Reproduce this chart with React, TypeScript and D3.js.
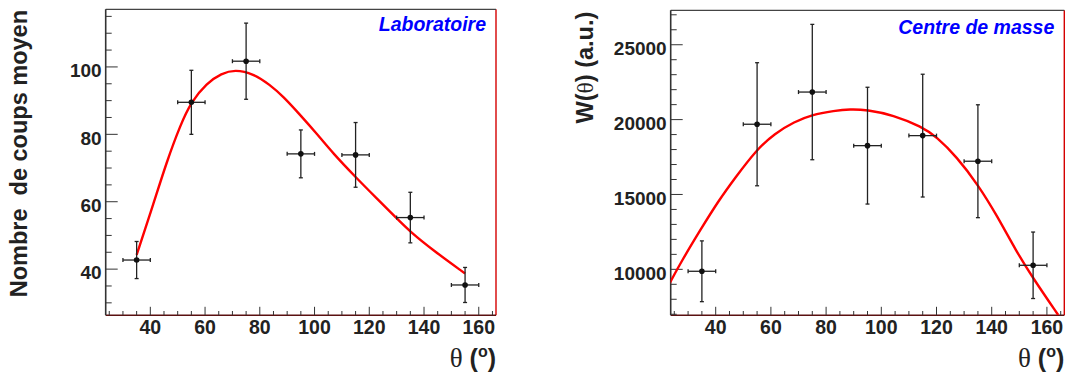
import React from "react";
import * as d3 from "d3";

// ---------- data ----------
const theta = [35, 55, 75, 95, 115, 135, 155];
const thetaErr = [5, 5, 5, 5, 5, 5, 5];

const countsLab = [42.7, 89.5, 101.7, 74.2, 73.9, 55.3, 35.3];
const countsLabErr = [5.5, 9.5, 11.3, 7.1, 9.6, 7.5, 5.2];

const wCM = [9870, 19690, 21840, 18260, 18930, 17220, 10270];
const wCMErr = [2030, 4110, 4520, 3900, 4100, 3770, 2220];

const fitLabTheta = [35, 41, 46, 51, 55, 60.6, 66, 71, 77.6, 83.7, 88.6, 94.7, 100.8, 106.8, 115, 122.7, 130, 134.8, 143.3, 155];
const fitLabValue = [44.2, 59.0, 71.9, 82.8, 89.7, 95.2, 98.1, 99.2, 98.0, 94.7, 91.2, 85.8, 80.2, 74.3, 67.3, 61.0, 55.1, 51.2, 45.6, 38.7];

const fitCMTheta = [23.3, 27.5, 34.8, 40.8, 46.9, 54.7, 61.4, 68.6, 74.6, 83.1, 88.6, 94.7, 104.3, 114.6, 120, 127.3, 135.1, 141.8, 149, 155, 164.1];
const fitCMValue = [9064, 10507, 12738, 14514, 16077, 17967, 19083, 19858, 20305, 20592, 20700, 20660, 20305, 19524, 18856, 17520, 15630, 13626, 11175, 9399, 6947];

const xMajorTicks = [40, 60, 80, 100, 120, 140, 160];
const labMajorTicks = [40, 60, 80, 100];
const cmMajorTicks = [10000, 15000, 20000, 25000];

const xDomain: [number, number] = [23.7, 166.3];
const labDomain: [number, number] = [26.3, 117.1];
const cmDomain: [number, number] = [6930, 27300];

const SANS = "'Liberation Sans', Arial, Helvetica, sans-serif";
const SERIF = "'Liberation Serif', 'Times New Roman', serif";

type PanelProps = {
  id: string;
  frame: { l: number; r: number; t: number; b: number };
  yDomain: [number, number];
  yMajor: number[];
  yMinorStep: number;
  xs: number[];
  ys: number[];
  yErr: number[];
  fitX: number[];
  fitY: number[];
  legend: string;
  legendBaseline: number;
  yTitle: React.ReactNode;
  yTitleX: number;
  yTitleTop: number;
};

function Panel(p: PanelProps) {
  const { frame } = p;
  const x = d3.scaleLinear().domain(xDomain).range([frame.l, frame.r]);
  const y = d3.scaleLinear().domain(p.yDomain).range([frame.b, frame.t]);

  const xMinor = d3.range(25, 166, 5).filter((v) => v >= xDomain[0] && v <= xDomain[1]);
  const yStart = Math.ceil(p.yDomain[0] / p.yMinorStep) * p.yMinorStep;
  const yMinor = d3.range(yStart, p.yDomain[1], p.yMinorStep);

  const line = d3
    .line<number>()
    .x((_, i) => x(p.fitX[i]))
    .y((d) => y(d))
    .curve(d3.curveBasis);

  const tickColor = "#333";
  return (
    <g>
      <defs>
        <clipPath id={p.id}>
          <rect x={frame.l} y={frame.t} width={frame.r - frame.l} height={frame.b - frame.t} />
        </clipPath>
      </defs>
      {/* frame */}
      <line x1={frame.r} x2={frame.r} y1={frame.t} y2={frame.b} stroke="#d40000" strokeWidth={1.4} />
      <line x1={frame.l} x2={frame.r} y1={frame.t} y2={frame.t} stroke="#444" strokeWidth={1.2} />
      <line x1={frame.l} x2={frame.r} y1={frame.b} y2={frame.b} stroke="#5a1010" strokeWidth={1.6} />
      <line x1={frame.l} x2={frame.l} y1={frame.t} y2={frame.b} stroke="#333" strokeWidth={1.6} />

      {/* x ticks */}
      {xMinor.map((v) => {
        const major = xMajorTicks.includes(v);
        return (
          <line key={"xt" + v} x1={x(v)} x2={x(v)} y1={frame.b} y2={frame.b - (major ? 8.5 : 4.3)} stroke={tickColor} strokeWidth={1} />
        );
      })}
      {/* y ticks */}
      {yMinor.map((v) => {
        const major = p.yMajor.includes(v);
        return (
          <line key={"yt" + v} x1={frame.l} x2={frame.l + (major ? 12 : 6)} y1={y(v)} y2={y(v)} stroke={tickColor} strokeWidth={1} />
        );
      })}

      {/* x tick labels */}
      {xMajorTicks.map((v) => (
        <text key={"xl" + v} x={x(v)} y={334} textAnchor="middle" fontFamily={SANS} fontWeight="bold" fontSize={19.5} fill="#222">
          {v}
        </text>
      ))}
      {/* y tick labels */}
      {p.yMajor.map((v) => (
        <text key={"yl" + v} x={frame.l - 4} y={y(v) + 10.3} textAnchor="end" fontFamily={SANS} fontWeight="bold" fontSize={19} fill="#222">
          {v}
        </text>
      ))}

      {/* fit curve */}
      <path d={line(p.fitY) || ""} fill="none" stroke="#ff0000" strokeWidth={2.4} strokeLinejoin="round" clipPath={`url(#${p.id})`} />

      {/* data points with error bars */}
      {p.xs.map((xv, i) => {
        const cx = x(xv);
        const cy = y(p.ys[i]);
        const x0 = x(xv - thetaErr[i]);
        const x1 = x(xv + thetaErr[i]);
        const y0 = y(p.ys[i] - p.yErr[i]);
        const y1 = y(p.ys[i] + p.yErr[i]);
        return (
          <g key={"pt" + i} stroke="#222" strokeWidth={1.3}>
            <line x1={x0} x2={x1} y1={cy} y2={cy} />
            <line x1={cx} x2={cx} y1={y0} y2={y1} />
            <line x1={x0} x2={x0} y1={cy - 2} y2={cy + 2} />
            <line x1={x1} x2={x1} y1={cy - 2} y2={cy + 2} />
            <line x1={cx - 2} x2={cx + 2} y1={y0} y2={y0} />
            <line x1={cx - 2} x2={cx + 2} y1={y1} y2={y1} />
            <circle cx={cx} cy={cy} r={2.8} fill="#111" stroke="none" />
          </g>
        );
      })}

      {/* legend */}
      <text x={frame.r - 10} y={p.legendBaseline} textAnchor="end" fontFamily={SANS} fontWeight="bold" fontStyle="italic" fontSize={19.5} fill="#0000ff">
        {p.legend}
      </text>

      {/* y title */}
      <text transform={`translate(${p.yTitleX},${p.yTitleTop}) rotate(-90)`} textAnchor="end" fontFamily={SANS} fontWeight="bold" fontSize={23.5} fill="#222">
        {p.yTitle}
      </text>

      {/* x title */}
      <text x={frame.r} y={367} textAnchor="end" fontFamily={SANS} fontWeight="bold" fontSize={25} fill="#222">
        <tspan fontFamily={SERIF} fontWeight="normal" fontSize={27}>θ</tspan>
        <tspan> (</tspan>
        <tspan fontSize={16} dy={-10}>o</tspan>
        <tspan dy={10}>)</tspan>
      </text>
    </g>
  );
}

export default function App() {
  return (
    <svg width={1067} height={374} style={{ position: "absolute", left: 0, top: 0, background: "#fff" }}>
      <rect x={0} y={0} width={1067} height={374} fill="#fff" />
      <Panel
        id="clipLab"
        frame={{ l: 105.7, r: 496, t: 9.3, b: 315.3 }}
        yDomain={labDomain}
        yMajor={labMajorTicks}
        yMinorStep={5}
        xs={theta}
        ys={countsLab}
        yErr={countsLabErr}
        fitX={fitLabTheta}
        fitY={fitLabValue}
        legend="Laboratoire"
        legendBaseline={31}
        yTitle={"Nombre\u00a0 de coups moyen"}
        yTitleX={27}
        yTitleTop={10}
      />
      <Panel
        id="clipCM"
        frame={{ l: 670.7, r: 1064.3, t: 10.3, b: 315.3 }}
        yDomain={cmDomain}
        yMajor={cmMajorTicks}
        yMinorStep={1000}
        xs={theta}
        ys={wCM}
        yErr={wCMErr}
        fitX={fitCMTheta}
        fitY={fitCMValue}
        legend="Centre de masse"
        legendBaseline={34}
        yTitle={
          <>
            <tspan>W(</tspan>
            <tspan fontFamily={SERIF} fontWeight="normal">θ</tspan>
            <tspan>) (a.u.)</tspan>
          </>
        }
        yTitleX={593}
        yTitleTop={11.7}
      />
    </svg>
  );
}
